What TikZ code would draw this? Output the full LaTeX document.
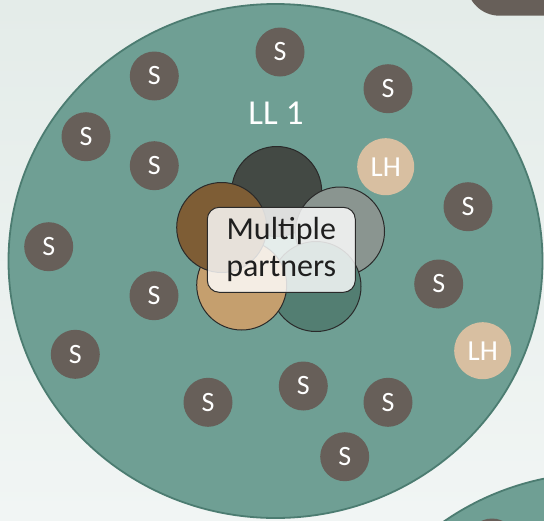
\documentclass[tikz,border=0pt]{standalone}
\usepackage{fontspec}
\setmainfont{Carlito}
\definecolor{bgtop}{HTML}{E4ECE9}
\definecolor{bgbot}{HTML}{F1F5F4}
\definecolor{llfill}{HTML}{6F9F94}
\definecolor{llline}{HTML}{4C7C71}
\definecolor{sgrey}{HTML}{675F59}
\definecolor{lhtan}{HTML}{D8BFA1}
\definecolor{pline}{HTML}{2A2A2A}
\definecolor{pdark}{HTML}{434944}
\definecolor{pbrown}{HTML}{7E5D35}
\definecolor{pgrey}{HTML}{8A9590}
\definecolor{ptan}{HTML}{C59F6E}
\definecolor{pteal}{HTML}{537E72}
\definecolor{txtdark}{HTML}{1F1F1F}
\tikzset{
 llring/.style = {fill=llfill, draw=llline, line width=1.8pt},
 scirc/.style = {circle, fill=sgrey, text=white, minimum size=49pt, inner sep=0pt, font=\fontsize{28}{30}\selectfont},
 lhcirc/.style = {circle, fill=lhtan, text=white, minimum size=57pt, inner sep=0pt, font=\fontsize{29}{31}\selectfont},
 petal/.style = {draw=pline, line width=1pt},
 partnerbox/.style = {draw=pline, line width=1pt, fill=white, fill opacity=0.82, text opacity=1, text=txtdark,
  rounded corners=12pt, minimum width=148pt, minimum height=85pt, inner sep=0pt, align=center,
  font=\fontsize{32}{36.7}\selectfont},
 lltext/.style = {text=white, font=\fontsize{35}{38}\selectfont, inner sep=0pt}
}
\begin{document}
\begin{tikzpicture}[x = 1pt, y = -1pt]
\useasboundingbox (0, 0) rectangle (544, 520);
\clip (0, 0) rectangle (544, 520);
\shade[top color = bgtop, bottom color = bgbot] (0, 0) rectangle (544, 520);
\fill[sgrey, rounded corners = 33pt] (466.6, -60) rectangle (620, 15.7);

\draw[llring] (275.5, 261) ellipse [x radius = 267pt, y radius = 257pt];
\draw[llring] (600, 730) ellipse [x radius = 267pt, y radius = 257pt];
\fill[sgrey] (492, 543) circle [radius = 24.5pt];

\draw[petal, fill = pdark] (276.7, 191.5) circle [radius = 45pt];
\draw[petal, fill = pgrey] (340, 231.5) circle [radius = 44.5pt];
\draw[petal, fill = pteal] (316, 286.5) circle [radius = 45pt];
\draw[petal, fill = ptan] (241.7, 285) circle [radius = 45pt];
\draw[petal, fill = pbrown] (221.7, 227.5) circle [radius = 45pt];
\node[partnerbox] (MP) at (281.3, 249.8) {Multiple\\partners};

\node[lltext, anchor = base] (LL) at (276, 124) {LL 1};

\node[scirc] (S1) at (280, 52) {S};
\node[scirc] (S2) at (154.3, 76) {S};
\node[scirc] (S3) at (388, 88.7) {S};
\node[scirc] (S4) at (86, 136.7) {S};
\node[scirc] (S5) at (154.3, 165.7) {S};
\node[lhcirc] (LH1) at (385.7, 166.7) {LH};
\node[scirc] (S6) at (468, 206.7) {S};
\node[scirc] (S7) at (48.7, 246.7) {S};
\node[scirc] (S8) at (438.7, 284) {S};
\node[scirc] (S9) at (154, 295.7) {S};
\node[scirc] (S10) at (75.3, 354.3) {S};
\node[lhcirc] (LH2) at (482.7, 350.7) {LH};
\node[scirc] (S11) at (303.3, 386) {S};
\node[scirc] (S12) at (208, 402.3) {S};
\node[scirc] (S13) at (388, 402.3) {S};
\node[scirc] (S14) at (344.7, 456.7) {S};
\end{tikzpicture}
\end{document}
